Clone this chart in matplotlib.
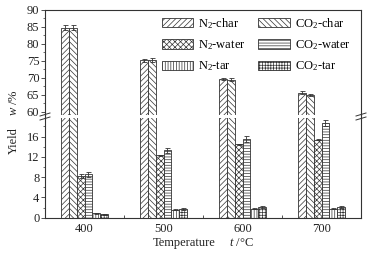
import matplotlib
matplotlib.use("Agg")
import matplotlib.pyplot as plt
import numpy as np
from matplotlib.lines import Line2D
from matplotlib.ticker import MultipleLocator

plt.rcParams['font.family'] = 'Liberation Serif'
plt.rcParams['mathtext.fontset'] = 'custom'
plt.rcParams['mathtext.rm'] = 'Liberation Serif'
plt.rcParams['mathtext.it'] = 'Liberation Serif:italic'
plt.rcParams['hatch.linewidth'] = 0.5
plt.rcParams['hatch.color'] = '#333333'

temps = ['400', '500', '600', '700']
labels = ['N$_2$-char', 'CO$_2$-char', 'N$_2$-water', 'CO$_2$-water', 'N$_2$-tar', 'CO$_2$-tar']

n2_char = [84.8, 75.1, 69.5, 65.6]
co2_char = [84.8, 75.2, 69.4, 65.0]
n2_water = [8.3, 12.3, 14.5, 15.4]
co2_water = [8.6, 13.3, 15.5, 18.7]
n2_tar = [0.85, 1.6, 1.8, 1.8]
co2_tar = [0.65, 1.8, 2.1, 2.1]

n2_char_err = [0.8, 0.5, 0.3, 0.5]
co2_char_err = [0.8, 0.5, 0.5, 0.3]
n2_water_err = [0.4, 0.1, 0.1, 0.1]
co2_water_err = [0.5, 0.5, 0.6, 0.6]
n2_tar_err = [0.1, 0.1, 0.1, 0.1]
co2_tar_err = [0.1, 0.2, 0.2, 0.2]

series = [n2_char, co2_char, n2_water, co2_water, n2_tar, co2_tar]
errs = [n2_char_err, co2_char_err, n2_water_err, co2_water_err, n2_tar_err, co2_tar_err]
hatches = ['//////', '\\\\\\\\\\\\', 'xxxxxx', '------', '||||||', '++++++']

W, H = 374, 256
fig = plt.figure(figsize=(W / 100, H / 100), dpi=100)
left, right = 45 / W, 361 / W
ax_top = fig.add_axes([left, 1 - 115 / H, right - left, (115 - 10) / H])
ax_bot = fig.add_axes([left, 1 - 217.7 / H, right - left, (217.7 - 118) / H])

x = np.arange(len(temps))
width = 0.101
fc = '#333333'
bars = []
for i, (vals, err, h) in enumerate(zip(series, errs, hatches)):
    pos = x + (i - 2.5) * width
    for ax in (ax_top, ax_bot):
        b = ax.bar(pos, vals, width, color='white', edgecolor=fc, linewidth=0.6, hatch=h)
        ax.errorbar(pos, vals, yerr=err, fmt='none', ecolor=fc, elinewidth=0.6,
                    capsize=1.8, capthick=0.6)
        if ax is ax_top:
            bars.append(b)

ax_top.set_ylim(59, 90)
ax_bot.set_ylim(0, 19.65)
for ax in (ax_top, ax_bot):
    ax.set_xlim(-0.5, 3.5)
    for s in ax.spines.values():
        s.set_color(fc)
        s.set_linewidth(0.8)
    ax.tick_params(axis='y', direction='out', length=3, width=0.6, color=fc,
                   labelsize=9, pad=1, colors='#222222')
    ax.tick_params(axis='y', which='minor', direction='out', length=1.8, width=0.5, color=fc)
    ax.tick_params(axis='y', which='both', right=False)

ax_top.spines['bottom'].set_visible(False)
ax_bot.spines['top'].set_visible(False)
ax_top.yaxis.set_major_locator(MultipleLocator(5))
ax_top.yaxis.set_minor_locator(MultipleLocator(2.5))
ax_bot.yaxis.set_major_locator(MultipleLocator(4))
ax_bot.yaxis.set_minor_locator(MultipleLocator(2))
ax_bot.set_yticks([0, 4, 8, 12, 16])

ax_top.set_xticks([])
ax_bot.set_xticks([0.5, 1.5, 2.5])
ax_bot.set_xticklabels([])
ax_bot.tick_params(axis='x', direction='in', length=2.5, width=0.6, color=fc, top=False)
ax_bot.set_xticks(x, minor=True)
ax_bot.set_xticklabels(temps, minor=True)
ax_bot.tick_params(axis='x', which='minor', length=0, labelsize=9, pad=4, colors='#222222')

# continuous spines across the break gap and break marks
for xf in (left, right):
    fig.add_artist(Line2D([xf, xf], [1 - 115 / H, 1 - 118 / H], color=fc, lw=0.8,
                          transform=fig.transFigure))
    for dy in (0, 4):
        y0 = 1 - (116 + dy) / H
        fig.add_artist(Line2D([xf - 5 / W, xf + 5 / W], [y0, y0 + 3 / H], color=fc, lw=0.7,
                              transform=fig.transFigure))

order = [0, 2, 4, 1, 3, 5]
ax_top.legend([bars[k] for k in order], [labels[k] for k in order], ncol=2,
              loc='upper left', bbox_to_anchor=(0.355, 0.99), frameon=False,
              fontsize=9, handlelength=2.5, handleheight=0.8, handletextpad=0.4,
              labelspacing=0.6, columnspacing=1.0, borderaxespad=0)

fig.text(14 / W, 1 - 141 / H, 'Yield', rotation=90, ha='center', va='center',
         fontsize=9, color='#222222')
fig.text(14 / W, 1 - 103 / H, '$w$ /%', rotation=90, ha='center', va='center',
         fontsize=9, color='#222222')
fig.text(184 / W, 1 - 243 / H, 'Temperature', ha='center', va='center',
         fontsize=9, color='#222222')
fig.text(241 / W, 1 - 243 / H, '$t$ /\u00b0C', ha='center', va='center',
         fontsize=9, color='#222222')

fig.savefig('out.png', dpi=100)
